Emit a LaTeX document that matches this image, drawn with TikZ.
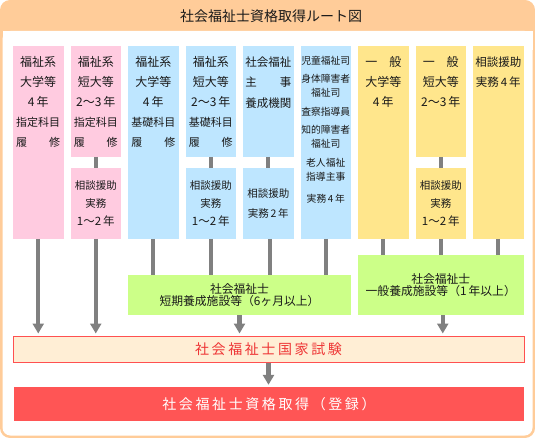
\documentclass[tikz,border=0pt]{standalone}
\usepackage{fontspec}
\setmainfont{Noto Sans CJK JP}
\usetikzlibrary{arrows.meta}
\definecolor{frameor}{HTML}{FFCC99}
\definecolor{pinkc}{HTML}{FFCBE0}
\definecolor{bluec}{HTML}{BEE6FF}
\definecolor{yelc}{HTML}{FFE68C}
\definecolor{greenc}{HTML}{CCFF88}
\definecolor{grayc}{HTML}{808080}
\definecolor{examfill}{HTML}{FFEED5}
\definecolor{examred}{HTML}{FF5050}
\definecolor{examtext}{HTML}{EE3535}
\definecolor{finalc}{HTML}{FF5555}
\definecolor{txtc}{HTML}{1A1A1A}
\newcommand\fs[2]{\fontsize{#1}{#2}\selectfont}
\newcommand\gp{\hskip 2.6pt}
\begin{document}
\begin{tikzpicture}[x=1pt,y=-1pt,
  colbox/.style={inner sep=0pt,outer sep=0pt,minimum width=50.5pt},
  pinkbox/.style={colbox,fill=pinkc},
  bluebox/.style={colbox,fill=bluec},
  yelbox/.style={colbox,fill=yelc},
  full/.style={minimum height=193pt},
  tophalf/.style={minimum height=111pt},
  lowhalf/.style={minimum height=71pt},
  coltext/.style={anchor=north,inner sep=0pt,align=center,text=txtc,font=\fs{12}{20},yshift=-10.4pt},
  lowtext/.style={inner sep=0pt,align=center,text=txtc,font=\fs{10.5}{18.3}},
  greenbox/.style={fill=greenc,inner sep=0pt,outer sep=0pt,align=center,text=txtc,font=\fs{11.8}{12.7}},
  conn/.style={draw=grayc,line width=4.4pt},
  arr/.style={conn,-{Triangle[width=11pt,length=10pt]},shorten >=2pt}
]
\useasboundingbox (0,0) rectangle (535,438);
% frame
\fill[frameor,rounded corners=10pt] (0,0) rectangle (535,438);
\fill[white,rounded corners=8pt] (2.5,31) rectangle (532.5,435.5);
\fill[white] (2.5,31) rectangle (532.5,50);
\node[inner sep=0pt,text=txtc,font=\fs{14}{16}] (title) at (271,15.7) {社会福祉士資格取得ルート図};

% columns
\node[pinkbox,full] (c1) at (38.25,142.5) {};
\node[pinkbox,tophalf] (c2) at (95.75,101.5) {};
\node[pinkbox,lowhalf] (c2b) at (95.75,203.5) {};
\node[bluebox,full] (c3) at (153.25,142.5) {};
\node[bluebox,tophalf] (c4) at (210.75,101.5) {};
\node[bluebox,lowhalf] (c4b) at (210.75,203.5) {};
\node[bluebox,tophalf] (c5) at (268.25,101.5) {};
\node[bluebox,lowhalf] (c5b) at (268.25,203.5) {};
\node[bluebox,full] (c6) at (325.75,142.5) {};
\node[yelbox,full] (c7) at (383.25,142.5) {};
\node[yelbox,tophalf] (c8) at (440.75,101.5) {};
\node[yelbox,lowhalf] (c8b) at (440.75,203.5) {};
\node[yelbox,full] (c9) at (498.25,142.5) {};

% column texts
\node[coltext] (t1) at (c1.north) {福祉系\\大学等\\4\,年\\{\fs{11}{20}指定科目}\\{\fs{11}{20}\makebox[44pt]{履\hfill 修}}};
\node[coltext] (t2) at (c2.north) {福祉系\\短大等\\2～3\,年\\{\fs{11}{20}指定科目}\\{\fs{11}{20}\makebox[44pt]{履\hfill 修}}};
\node[coltext] (t3) at (c3.north) {福祉系\\大学等\\4\,年\\{\fs{11}{20}基礎科目}\\{\fs{11}{20}\makebox[44pt]{履\hfill 修}}};
\node[coltext] (t4) at (c4.north) {福祉系\\短大等\\2～3\,年\\{\fs{11}{20}基礎科目}\\{\fs{11}{20}\makebox[44pt]{履\hfill 修}}};
\node[coltext,font=\fs{11.5}{20.5}] (t5) at (c5.north) {社会福祉\\\makebox[46pt]{主\hfill 事}\\養成機関};
\node[coltext,font=\fs{9.8}{14},yshift=0.6pt] (t6) at (c6.north) {児童福祉司\\[4.6pt]身体障害者\\福祉司\\[4.6pt]査察指導員\\[4.3pt]知的障害者\\福祉司\\[4.3pt]老人福祉\\指導主事\\[8.4pt]実務\,4\,年};
\node[coltext] (t7) at (c7.north) {\makebox[36pt]{一\hfill 般}\\大学等\\4\,年};
\node[coltext] (t8) at (c8.north) {\makebox[36pt]{一\hfill 般}\\短大等\\2～3\,年};
\node[coltext,font=\fs{11.5}{20.3}] (t9) at (c9.north) {相談援助\\実務\,4\,年};

\node[lowtext] (t2b) at (c2b.center) {相談援助\\実務\\{\fs{11.5}{18.3}1～2\,年}};
\node[lowtext] (t4b) at (c4b.center) {相談援助\\実務\\{\fs{11.5}{18.3}1～2\,年}};
\node[lowtext,font=\fs{10.5}{20}] (t5b) at (c5b.center) {相談援助\\実務\,2\,年};
\node[lowtext] (t8b) at (c8b.center) {相談援助\\実務\\{\fs{11.5}{18.3}1～2\,年}};

% green boxes
\node[greenbox,minimum width=223pt,minimum height=40pt] (g1) at (239.5,295) {社会福祉士\\短期養成施設等（6ヶ月以上）};
\node[greenbox,minimum width=165.5pt,minimum height=60pt] (g2) at (440.75,285) {社会福祉士\\一般養成施設等（1\,年以上）};

% exam and final
\node[fill=examfill,draw=examred,line width=1pt,inner sep=0pt,minimum width=511pt,minimum height=26pt,text=examtext,font=\fs{14}{16}] (exam) at (268.5,349) {\raisebox{-1.5pt}{社\gp 会\gp 福\gp 祉\gp 士\gp 国\gp 家\gp 試\gp 験}};
\node[fill=finalc,inner sep=0pt,minimum width=510pt,minimum height=34pt,text=white,font=\fs{14}{16}] (final) at (269,404) {\raisebox{-2pt}{社\gp 会\gp 福\gp 祉\gp 士\gp 資\gp 格\gp 取\gp 得\gp （\gp 登\gp 録\gp ）}};

% connectors
\draw[conn] (c2.south) -- (c2b.north);
\draw[conn] (c4.south) -- (c4b.north);
\draw[conn] (c5.south) -- (c5b.north);
\draw[conn] (c8.south) -- (c8b.north);
\draw[conn] (c3.south) -- (c3.south |- g1.north);
\draw[conn] (c4b.south) -- (c4b.south |- g1.north);
\draw[conn] ([xshift=1.5pt]c5b.south) -- ([xshift=1.5pt]c5b.south |- g1.north);
\draw[conn] (c6.south) -- (c6.south |- g1.north);
\draw[conn] (c7.south) -- (c7.south |- g2.north);
\draw[conn] (c8b.south) -- (c8b.south |- g2.north);
\draw[conn] (c9.south) -- (c9.south |- g2.north);
\draw[arr] (c1.south) -- (c1.south |- exam.north);
\draw[arr] (c2b.south) -- (c2b.south |- exam.north);
\draw[arr] (g1.south) -- (g1.south |- exam.north);
\draw[arr] ([xshift=2pt]g2.south) -- ([xshift=2pt]g2.south |- exam.north);
\draw[arr] (exam.south) -- (exam.south |- final.north);
\end{tikzpicture}
\end{document}
